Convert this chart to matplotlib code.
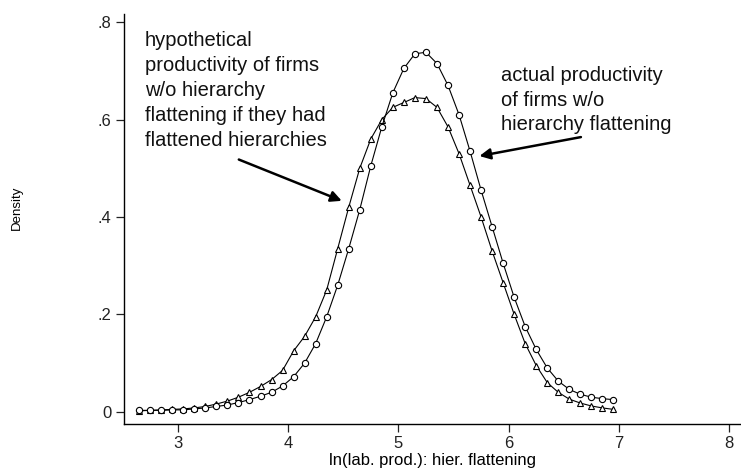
import numpy as np
import matplotlib.pyplot as plt

plt.rcParams['font.family'] = ['Liberation Sans', 'DejaVu Sans']

# evaluation grid (log labour productivity)
x_grid = [2.65, 2.75, 2.85, 2.95, 3.05, 3.15, 3.25, 3.35, 3.45, 3.55, 3.65,
          3.75, 3.85, 3.95, 4.05, 4.15, 4.25, 4.35, 4.45, 4.55, 4.65, 4.75,
          4.85, 4.95, 5.05, 5.15, 5.25, 5.35, 5.45, 5.55, 5.65, 5.75, 5.85,
          5.95, 6.05, 6.15, 6.25, 6.35, 6.45, 6.55, 6.65, 6.75, 6.85, 6.95]

# actual productivity of firms w/o hierarchy flattening (circles)
dens_actual = [0.003, 0.003, 0.003, 0.004, 0.004, 0.006, 0.008, 0.011, 0.014,
               0.019, 0.025, 0.032, 0.040, 0.053, 0.072, 0.100, 0.140, 0.195,
               0.260, 0.335, 0.415, 0.505, 0.585, 0.655, 0.705, 0.735, 0.738,
               0.715, 0.670, 0.610, 0.535, 0.455, 0.380, 0.305, 0.235, 0.175,
               0.128, 0.090, 0.063, 0.046, 0.036, 0.030, 0.027, 0.025]

# hypothetical productivity if they had flattened (triangles)
dens_hypo = [0.002, 0.003, 0.004, 0.005, 0.006, 0.008, 0.011, 0.016, 0.022,
             0.030, 0.040, 0.052, 0.066, 0.085, 0.125, 0.155, 0.195, 0.250,
             0.335, 0.420, 0.500, 0.560, 0.600, 0.625, 0.635, 0.645, 0.643,
             0.625, 0.585, 0.530, 0.465, 0.400, 0.330, 0.265, 0.200, 0.140,
             0.095, 0.060, 0.040, 0.026, 0.018, 0.012, 0.008, 0.005]

y_ticks = [0, 0.2, 0.4, 0.6, 0.8]
y_ticklabels = ['0', '.2', '.4', '.6', '.8']
x_ticks = [3, 4, 5, 6, 7, 8]

fig = plt.figure(figsize=(7.41, 4.72), dpi=100)
ax = fig.add_axes([0.167, 0.1017, 0.832, 0.868])

ax.plot(x_grid, dens_hypo, color='black', lw=0.8, marker='^', ms=5,
        mfc='white', mec='black', mew=0.8)
ax.plot(x_grid, dens_actual, color='black', lw=0.8, marker='o', ms=4.5,
        mfc='white', mec='black', mew=0.8)

ax.set_xlim(2.51, 8.1)
ax.set_ylim(-0.025, 0.816)
ax.set_xticks(x_ticks)
ax.set_yticks(y_ticks)
ax.set_yticklabels(y_ticklabels)
ax.tick_params(direction='out', length=6, width=0.9, pad=3, colors='#222222',
               labelsize=12)
for s in ['top', 'right']:
    ax.spines[s].set_visible(False)
for s in ['left', 'bottom']:
    ax.spines[s].set_linewidth(1.0)

ax.set_xlabel('ln(lab. prod.): hier. flattening', fontsize=12, labelpad=1)
ax.set_ylabel('Density', fontsize=9.5)
ax.yaxis.set_label_coords(-0.164, 0.527)

ax.text(2.70, 0.781,
        'hypothetical\nproductivity of firms\nw/o hierarchy\nflattening if they had\nflattened hierarchies',
        fontsize=14.5, va='top', ha='left', linespacing=1.4, color='#111111')
ax.text(5.93, 0.709,
        'actual productivity\nof firms w/o\nhierarchy flattening',
        fontsize=14.5, va='top', ha='left', linespacing=1.35, color='#111111')

ax.annotate('', xy=(4.51, 0.431), xytext=(3.53, 0.52),
            arrowprops=dict(arrowstyle='-|>', color='black', lw=1.8,
                            mutation_scale=16))
ax.annotate('', xy=(5.71, 0.524), xytext=(6.68, 0.565),
            arrowprops=dict(arrowstyle='-|>', color='black', lw=1.8,
                            mutation_scale=16))

fig.savefig('out.png', dpi=100)
